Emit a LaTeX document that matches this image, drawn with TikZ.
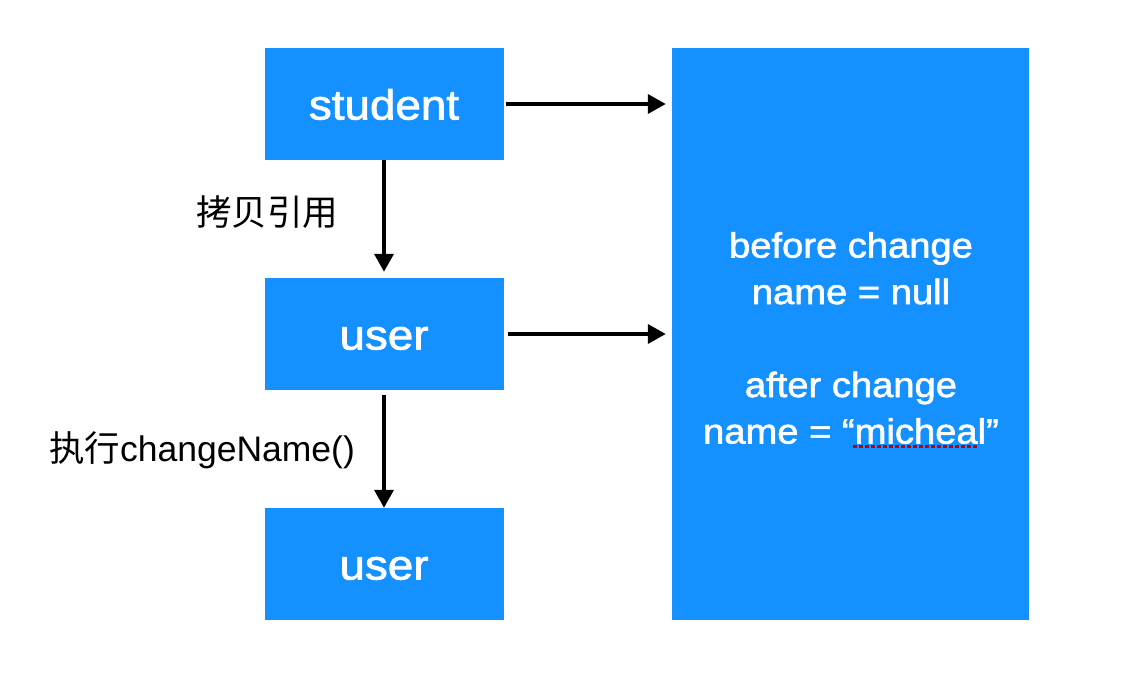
\documentclass[tikz,border=0pt]{standalone}
\usepackage{fontspec}
\setmainfont{Liberation Sans}
\newfontfamily\medium[FakeBold=1.8,FakeStretch=1.09]{Liberation Sans}
\newfontfamily\cjk{Noto Sans CJK SC}
\usetikzlibrary{arrows.meta}
\definecolor{boxblue}{RGB}{20,144,255}
\begin{document}
\begin{tikzpicture}
      [x=1pt,y=-1pt
      ,box/.style={fill=boxblue,text=white,inner sep=0pt,minimum width=239pt,minimum height=112pt,text height=31pt,text depth=0pt,font=\medium\fontsize{42}{48}\selectfont}
      ,lin/.style={color=black,line width=3.6pt,-{Triangle[length=18pt,width=19pt]}}
      ,lab/.style={font=\fontsize{35.5}{40}\selectfont}
      ]
        \useasboundingbox (0,0) rectangle (1124,682);
        \node[box] (student) at (384,104) {student};
        \node[box] (user1) at (384,334) {user};
        \node[box] (user2) at (384,564) {user};
        \node[box,minimum width=357pt,minimum height=572pt] (obj) at (850.5,334) {};
        \node[text=white,align=center,font=\medium\fontsize{35}{46.5}\selectfont] (objtext) at (851,338)
          {before change\\name = null\\[46.5pt]after change\\name = “micheal”};
        \draw[lin,shorten >=6pt] (student.south) -- (user1.north);
        \draw[lin,shorten <=5pt] (user1.south) -- (user2.north);
        \draw[lin,shorten <=2pt,shorten >=6pt] (student.east) -- (student.east -| obj.west);
        \draw[lin,shorten <=4pt,shorten >=6pt] (user1.east) -- (user1.east -| obj.west);
        \node[lab] (copy) at (267,212) {\cjk 拷贝引用};
        \node[lab] (call) at (202,450) {\cjk 执行\normalfont changeName()};
        \draw[red!75!black,line width=3pt,dash pattern=on 3.5pt off 2.5pt] (853,446) -- (978,446);
\end{tikzpicture}
\end{document}
